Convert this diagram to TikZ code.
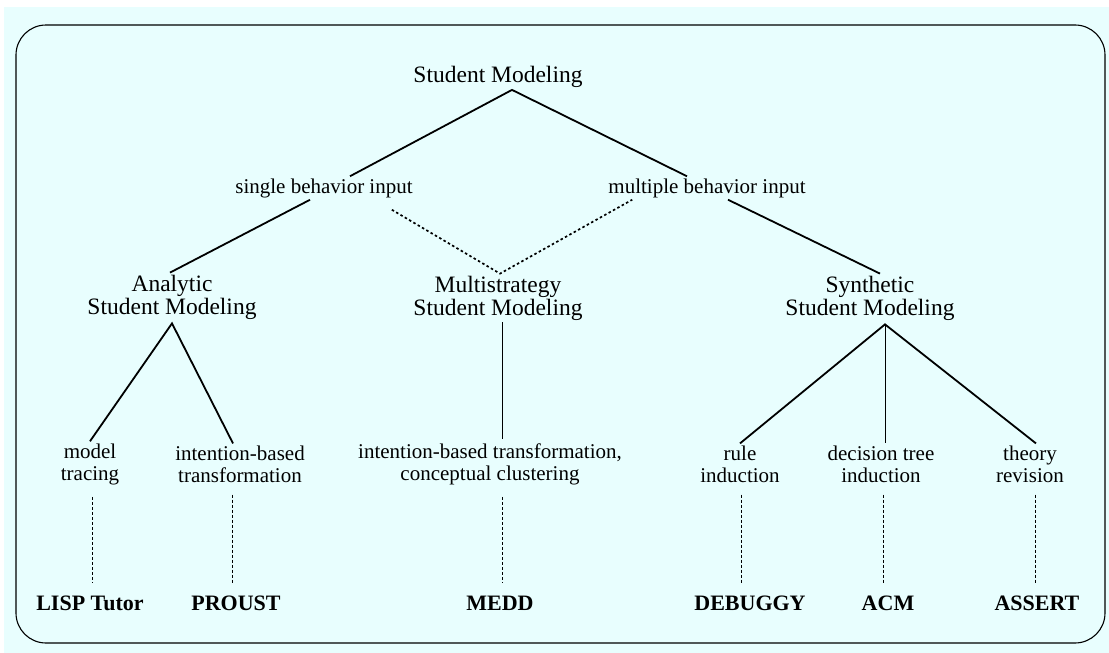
\documentclass[tikz,border=0pt]{standalone}
\usepackage{fontspec}
\setmainfont{Liberation Serif}
\usepackage{tikz}
\definecolor{paleblue}{RGB}{232,254,254}

\begin{document}
\begin{tikzpicture}[x=1pt,y=-1pt,
   topic/.style={inner sep=2pt,align=center,font=\fontsize{23.5}{23}\selectfont},
   method/.style={inner sep=2pt,align=center,font=\fontsize{21}{22}\selectfont},
   system/.style={inner sep=2pt,font=\fontsize{22}{24}\selectfont\bfseries},
   branch/.style={line width=1.8pt},
   twig/.style={line width=0.9pt},
   maybe/.style={line width=1.7pt,dash pattern=on 2.5pt off 2.5pt},
   trace/.style={line width=0.9pt,dash pattern=on 3pt off 2pt}]
\useasboundingbox (0,0) rectangle (1109,653);
\fill[white] (0,0) rectangle (1109,653);
\fill[paleblue] (4,7) rectangle (1109,653);
\draw[line width=1.1pt,rounded corners=30pt] (16,25) rectangle (1105,643);

% top of the tree
\node[topic] (root) at (498,77) {Student Modeling};
\node[method] (single) at (324,188) {single behavior input};
\node[method] (multiple) at (707,188) {multiple behavior input};

\node[topic] (analytic) at (172,297) {Analytic\\Student Modeling};
\node[topic] (multi) at (498,298) {Multistrategy\\Student Modeling};
\node[topic] (synth) at (870,298) {Synthetic\\Student Modeling};

% techniques
\node[method] (tracing) at (90,464) {model\\tracing};
\node[method] (intent) at (240,464) {intention-based\\transformation};
\node[method] (cluster) at (490,464) {intention-based transformation,\\conceptual clustering};
\node[method] (rule) at (740,464) {rule\\induction};
\node[method] (dtree) at (881,464) {decision tree\\induction};
\node[method] (revision) at (1030,464) {theory\\revision};

% systems
\node[system] (lisp) at (90,603) {LISP Tutor};
\node[system] (proust) at (236,603) {PROUST};
\node[system] (medd) at (500,603) {MEDD};
\node[system] (debuggy) at (750,603) {DEBUGGY};
\node[system] (acm) at (888,603) {ACM};
\node[system] (assert) at (1037,603) {ASSERT};

\draw[branch] ([xshift=26pt]single.north) -- ([xshift=14pt]root.south) -- ([xshift=-20pt]multiple.north);
\draw[branch] ([xshift=-14pt]single.south) -- ([xshift=-2pt]analytic.north);
\draw[branch] ([xshift=21pt]multiple.south) -- ([xshift=10pt]synth.north);
\draw[maybe] ([xshift=-23pt,yshift=-10pt]single.south east) -- ([xshift=2pt]multi.north)
   -- ([xshift=26pt]multiple.south west);

\draw[branch] (tracing.north) -- ([yshift=-2pt]analytic.south) -- ([xshift=-7pt]intent.north);
\draw[twig] ([xshift=4pt]multi.south) -- ([xshift=12pt,yshift=2pt]cluster.north);
\draw[branch] (rule.north) -- ([xshift=15pt,yshift=-2pt]synth.south) -- ([xshift=6pt]revision.north);
\draw[twig] ([xshift=15pt,yshift=-2pt]synth.south) -- ([xshift=4pt]dtree.north);

\draw[trace] ([xshift=2pt,yshift=-10pt]tracing.south) -- ([xshift=2pt,yshift=10pt]tracing.south |- lisp.north);
\draw[trace] ([xshift=-8pt,yshift=-10pt]intent.south) -- ([xshift=-8pt,yshift=10pt]intent.south |- lisp.north);
\draw[trace] ([xshift=12pt,yshift=-10pt]cluster.south) -- ([xshift=12pt,yshift=10pt]cluster.south |- lisp.north);
\draw[trace] ([xshift=1pt,yshift=-10pt]rule.south) -- ([xshift=1pt,yshift=10pt]rule.south |- lisp.north);
\draw[trace] ([xshift=2pt,yshift=-10pt]dtree.south) -- ([xshift=2pt,yshift=10pt]dtree.south |- lisp.north);
\draw[trace] ([xshift=5pt,yshift=-10pt]revision.south) -- ([xshift=5pt,yshift=10pt]revision.south |- lisp.north);
\end{tikzpicture}
\end{document}
